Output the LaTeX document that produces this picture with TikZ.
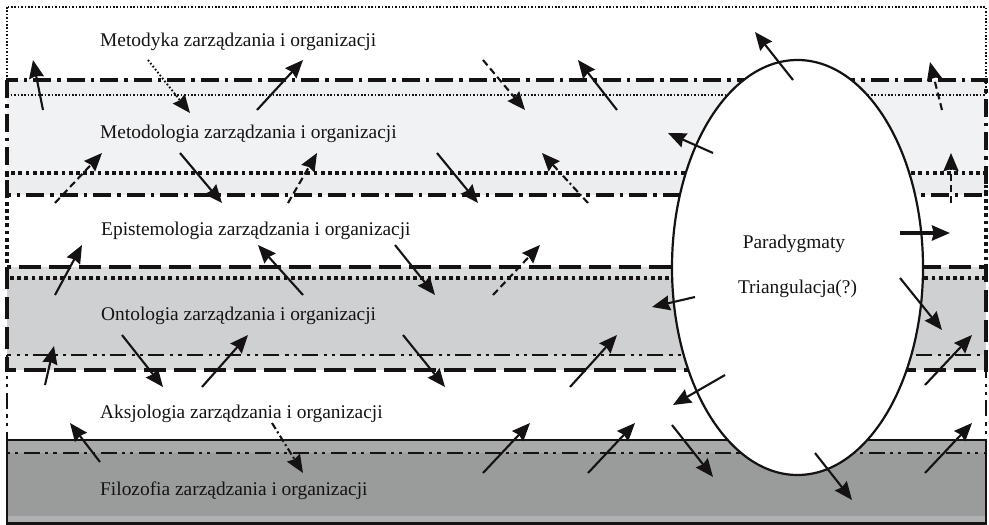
\documentclass[tikz,border=0pt]{standalone}
\usepackage{fontspec}
\setmainfont{Liberation Serif}
\usetikzlibrary{arrows.meta,shapes.geometric}
\definecolor{bandA}{HTML}{EEEFF0}
\definecolor{bandB}{HTML}{F1F2F3}
\definecolor{bandC}{HTML}{ECEDEE}
\definecolor{bandD}{HTML}{DCDDDD}
\definecolor{bandE}{HTML}{CFD0D1}
\definecolor{bandF}{HTML}{D9DADA}
\definecolor{bandG}{HTML}{A8AAAA}
\definecolor{bandH}{HTML}{9A9C9C}
\definecolor{bandI}{HTML}{AEB0B2}
\definecolor{ink}{HTML}{151213}
\begin{document}
\begin{tikzpicture}[x=1pt,y=-1pt,
  lbl/.style={anchor=base west,inner sep=0pt,text=ink,font=\fontsize{19.4}{23}\selectfont},
  clbl/.style={anchor=base,inner sep=0pt,text=ink,font=\fontsize{19.4}{23}\selectfont},
  ldot/.style={draw=ink,line width=1.8pt,dash pattern=on 1.6pt off 1.8pt},
  ldashdot/.style={draw=ink,line width=3.2pt,dash pattern=on 18pt off 6pt on 3.5pt off 6pt},
  lsqdot/.style={draw=ink,line width=3.8pt,dash pattern=on 3.8pt off 3.4pt},
  ldash/.style={draw=ink,line width=3.8pt,dash pattern=on 22pt off 8pt},
  ldashdd/.style={draw=ink,line width=2.9pt,dash pattern=on 16pt off 5pt on 3.2pt off 5pt on 3.2pt off 6pt},
  lsolid/.style={draw=ink,line width=2.8pt},
  arr/.style={draw=ink,line width=2.1pt,-{Stealth[length=18pt,width=15pt,inset=1.8pt]}},
  arrdash/.style={arr,dash pattern=on 7pt off 4pt},
  arrdashdot/.style={arr,dash pattern=on 7pt off 3pt on 2pt off 3pt},
  arrdot/.style={arr,line width=1.9pt,dash pattern=on 1.7pt off 2.1pt},
  arrthick/.style={arr,line width=3.6pt}]
\useasboundingbox (0,0) rectangle (989,525);
% band fills
\fill[bandA] (7,80) rectangle (986,95);
\fill[bandB] (7,95) rectangle (986,173);
\fill[bandC] (7,173) rectangle (986,195);
\fill[bandD] (7,267) rectangle (986,278);
\fill[bandE] (7,278) rectangle (986,355);
\fill[bandF] (7,355) rectangle (986,370);
\fill[bandG] (7,440) rectangle (986,453);
\fill[bandH] (7,453) rectangle (986,516);
\fill[bandI] (7,516) rectangle (986,523);
% layer outlines
\draw[ldot] (7,7) rectangle (986,95);
\draw[ldashdot] (7,80) rectangle (986,195);
\draw[lsqdot] (7,173) rectangle (986,278);
\draw[ldash] (7,267) rectangle (986,370);
\draw[ldashdd] (7,355) rectangle (986,453);
\draw[lsolid] (7,440) rectangle (986,523.5);
% ellipse
\node[ellipse,draw=ink,fill=white,line width=2.2pt,minimum width=251pt,minimum height=415pt,inner sep=0pt] (ell) at (797.5,267.5) {};
% labels
\node[lbl] (t1) at (100,46.5) {Metodyka zarządzania i organizacji};
\node[lbl] (t2) at (100,138) {Metodologia zarządzania i organizacji};
\node[lbl] (t3) at (101,235) {Epistemologia zarządzania i organizacji};
\node[lbl] (t4) at (101,320) {Ontologia zarządzania i organizacji};
\node[lbl] (t5) at (100,418) {Aksjologia zarządzania i organizacji};
\node[lbl] (t6) at (100,495) {Filozofia zarządzania i organizacji};
\node[clbl] (par) at (794,248) {Paradygmaty};
\node[clbl] (tri) at (797.5,293) {Triangulacja(?)};
% arrows: solid
\foreach \n/\a/\b/\c/\d in {1/43/110/33/60, 3/257/110/303/60, 5/180/153/222/203,
  8/617/110/578/60, 9/437/153/478/203, 11/793/80/755/32, 13/713/153/668/133,
  15/55/295/82/245, 16/303/295/258/245, 17/122/335/163/387, 18/202/387/248/335,
  19/45/385/54/346, 20/395/245/435/295, 22/695/297/652/307, 23/403/335/445/387,
  24/570/387/617/335, 26/900/278/942/330, 27/925/385/972/335, 28/100/462/70/423,
  30/483/473/530/423, 31/588/473/635/423, 32/725/375/673/405, 33/672/425/713/477,
  34/815/453/852/500, 35/925/473/972/423}
  {\coordinate (s\n) at (\a,\b); \coordinate (e\n) at (\c,\d); \draw[arr] (s\n) -- (e\n);}
% arrows: dashed
\foreach \n/\a/\b/\c/\d in {4/55/203/102/153, 6/288/203/317/153, 7/483/60/525/110,
  12/942/110/930/62, 14/951/203/951/153, 21/493/295/540/245}
  {\coordinate (s\n) at (\a,\b); \coordinate (e\n) at (\c,\d); \draw[arrdash] (s\n) -- (e\n);}
% arrows: dash-dot
\foreach \n/\a/\b/\c/\d in {10/588/203/542/153, 29/272/423/303/473}
  {\coordinate (s\n) at (\a,\b); \coordinate (e\n) at (\c,\d); \draw[arrdashdot] (s\n) -- (e\n);}
% arrow: dotted
\coordinate (s2) at (148,60); \coordinate (e2) at (190,113);
\draw[arrdot] (s2) -- (e2);
% arrow: thick
\coordinate (s25) at (900,233); \coordinate (e25) at (950,233);
\draw[arrthick] (s25) -- (e25);
\end{tikzpicture}
\end{document}
